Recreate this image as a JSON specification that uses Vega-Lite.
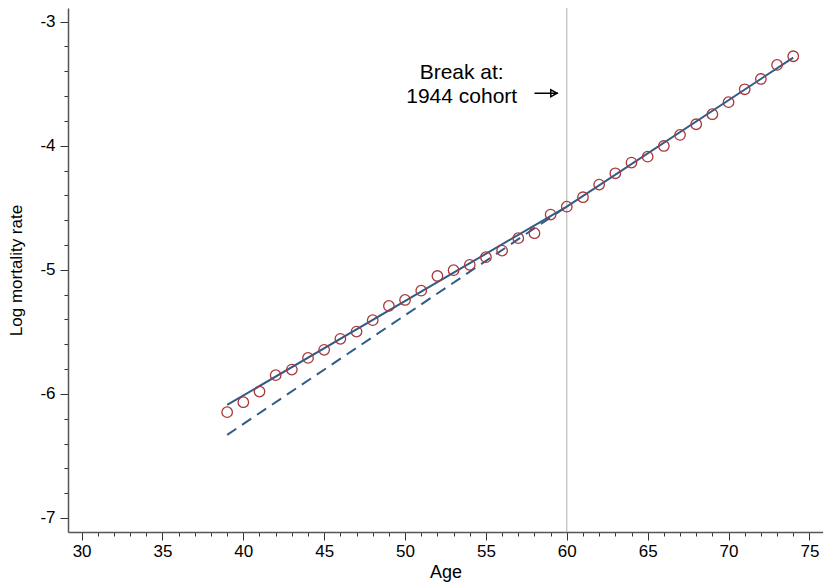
{
  "$schema": "https://vega.github.io/schema/vega-lite/v6.json",
  "autosize": "none",
  "width": 755,
  "height": 524,
  "padding": {"left": 68, "top": 8, "right": 0, "bottom": 56},
  "background": "white",
  "config": {"view": {"stroke": null}, "font": "Liberation Sans"},
  "datasets": {
    "points": [
      {"age": 39, "rate": -6.147}, {"age": 40, "rate": -6.067}, {"age": 41, "rate": -5.981},
      {"age": 42, "rate": -5.849}, {"age": 43, "rate": -5.804}, {"age": 44, "rate": -5.710},
      {"age": 45, "rate": -5.645}, {"age": 46, "rate": -5.556}, {"age": 47, "rate": -5.498},
      {"age": 48, "rate": -5.406}, {"age": 49, "rate": -5.291}, {"age": 50, "rate": -5.243},
      {"age": 51, "rate": -5.168}, {"age": 52, "rate": -5.050}, {"age": 53, "rate": -5.003},
      {"age": 54, "rate": -4.960}, {"age": 55, "rate": -4.898}, {"age": 56, "rate": -4.845},
      {"age": 57, "rate": -4.745}, {"age": 58, "rate": -4.705}, {"age": 59, "rate": -4.555},
      {"age": 60, "rate": -4.491}, {"age": 61, "rate": -4.415}, {"age": 62, "rate": -4.313},
      {"age": 63, "rate": -4.222}, {"age": 64, "rate": -4.136}, {"age": 65, "rate": -4.088},
      {"age": 66, "rate": -4.002}, {"age": 67, "rate": -3.913}, {"age": 68, "rate": -3.827},
      {"age": 69, "rate": -3.746}, {"age": 70, "rate": -3.649}, {"age": 71, "rate": -3.545},
      {"age": 72, "rate": -3.462}, {"age": 73, "rate": -3.349}, {"age": 74, "rate": -3.279}
    ],
    "fit": [
      {"age": 39, "rate": -6.089}, {"age": 60, "rate": -4.49}, {"age": 74, "rate": -3.29}
    ],
    "counterfactual": [
      {"age": 39, "rate": -6.33}, {"age": 60, "rate": -4.49}
    ],
    "labels": [
      {"age": 53.5, "rate": -3.413, "text": "Break at:"},
      {"age": 53.5, "rate": -3.605, "text": "1944 cohort"}
    ],
    "arrow": [
      {"age": 58.0, "age2": 59.45, "rate": -3.577}
    ],
    "arrowhead": [
      {"age": 59.2, "rate": -3.577}
    ],
    "breakline": [
      {"age": 60, "rate": -7.113, "rate2": -2.89}
    ]
  },
  "encoding": {
    "x": {
      "field": "age", "type": "quantitative",
      "scale": {"domain": [29.16, 75.84], "nice": false, "zero": false},
      "axis": {
        "title": "Age",
        "titleFont": "Liberation Sans", "titleFontSize": 18, "titleFontWeight": "normal", "titleColor": "#000",
        "titlePadding": 4,
        "values": [30,31,32,33,34,35,36,37,38,39,40,41,42,43,44,45,46,47,48,49,50,51,52,53,54,55,56,57,58,59,60,61,62,63,64,65,66,67,68,69,70,71,72,73,74,75],
        "labelExpr": "datum.value % 5 === 0 ? '' + datum.value : ''",
        "labelFont": "Liberation Sans", "labelFontSize": 17, "labelColor": "#000",
        "labelPadding": 3,
        "labelFlush": false, "labelOverlap": false,
        "tickSize": {"condition": {"test": "datum.value % 5 === 0", "value": 8}, "value": 4},
        "tickColor": "#333", "tickWidth": 1,
        "domainColor": "#555", "domainWidth": 1.5,
        "grid": false
      }
    },
    "y": {
      "field": "rate", "type": "quantitative",
      "scale": {"domain": [-7.113, -2.89], "nice": false, "zero": false},
      "axis": {
        "title": "Log mortality rate",
        "titleFont": "Liberation Sans", "titleFontSize": 17, "titleFontWeight": "normal", "titleColor": "#000",
        "titlePadding": 14,
        "values": [-7,-6.8,-6.6,-6.4,-6.2,-6,-5.8,-5.6,-5.4,-5.2,-5,-4.8,-4.6,-4.4,-4.2,-4,-3.8,-3.6,-3.4,-3.2,-3],
        "labelExpr": "abs(datum.value - round(datum.value)) < 0.01 ? '-' + abs(round(datum.value)) : ''",
        "labelFont": "Liberation Sans", "labelFontSize": 17, "labelColor": "#000",
        "labelPadding": 5,
        "labelFlush": false, "labelOverlap": false,
        "tickSize": {"condition": {"test": "abs(datum.value - round(datum.value)) < 0.01", "value": 8}, "value": 4},
        "tickColor": "#333", "tickWidth": 1,
        "domainColor": "#555", "domainWidth": 1.5,
        "grid": false
      }
    }
  },
  "layer": [
    {
      "data": {"name": "breakline"},
      "mark": {"type": "rule", "color": "#b0b0b0", "strokeWidth": 1},
      "encoding": {
        "y2": {"field": "rate2"}
      }
    },
    {
      "data": {"name": "counterfactual"},
      "mark": {"type": "line", "color": "#2f5d8a", "strokeWidth": 2, "strokeDash": [11, 7]},
      "encoding": {}
    },
    {
      "data": {"name": "fit"},
      "mark": {"type": "line", "color": "#2f5d8a", "strokeWidth": 2},
      "encoding": {}
    },
    {
      "data": {"name": "points"},
      "mark": {"type": "point", "shape": "circle", "filled": false, "color": "#a8383c", "size": 110, "strokeWidth": 1.3, "opacity": 1}
    },
    {
      "data": {"name": "labels"},
      "mark": {"type": "text", "font": "Liberation Sans", "fontSize": 21, "align": "center", "baseline": "middle", "color": "#000"},
      "encoding": {
        "text": {"field": "text"}
      }
    },
    {
      "data": {"name": "arrow"},
      "mark": {"type": "rule", "color": "#000", "strokeWidth": 1.5},
      "encoding": {
        "x2": {"field": "age2"}
      }
    },
    {
      "data": {"name": "arrowhead"},
      "mark": {"type": "point", "shape": "triangle-right", "filled": false, "color": "#000", "size": 50, "strokeWidth": 1.5, "opacity": 1}
    }
  ]
}
